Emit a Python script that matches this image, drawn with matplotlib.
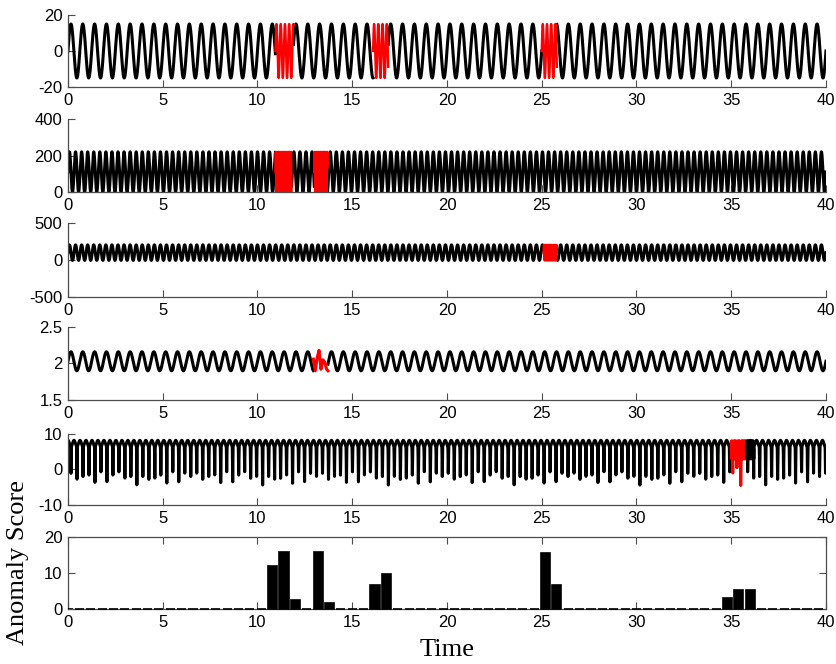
import numpy as np
import matplotlib.pyplot as plt
from matplotlib.ticker import FormatStrFormatter

# time base of the five signals
t = np.linspace(0, 40, 16001)

# signal shapes: (offset, amplitude, cycles per time unit)
sig1 = (0.0, 15.0, 1.6)
sig2 = (110.0, 110.0, 3.125)
sig3 = (100.0, 105.0, 3.125)
sig4 = (2.03, 0.13, 1.6)
sig5 = (7.3, 0.9, 3.165)

# panel 5: downward spikes, one every spike_period, depths repeat in this pattern
spike_period = 0.316
spike_depths = [-1.1, -2.8, -2.0, -1.6, -3.7, -0.7, -3.5, -1.6, -0.7, -2.5, -2.0,
                -4.4, -2.0, -2.8, -2.5, -1.6, -3.9, -0.7, -3.5, -1.1, -2.0]

# anomalous stretches (red): (start, end, cycles per time unit)
anom1 = [(10.95, 11.9, 4.5), (16.1, 16.9, 4.5), (25.0, 25.8, 4.5)]
anom2 = [(10.95, 11.8, 15.0), (13.0, 13.7, 15.0)]
anom3 = [(25.1, 25.8, 15.0)]
anom4_t = [12.95, 13.05, 13.15, 13.25, 13.35, 13.45, 13.55, 13.65, 13.72]
anom4_y = [2.06, 1.90, 2.08, 2.18, 1.92, 2.05, 2.02, 1.92, 1.90]
anom5 = [(35.0, 35.8, 25.0)]
anom5_spike_t = [35.08, 35.3, 35.5]
anom5_spike_y = [-1.0, 0.5, -4.5]
dense5 = (35.8, 36.2)

# anomaly score per 0.6-wide time bin
bin_width = 0.6
n_bins = 67
score_bins = [18, 19, 20, 22, 23, 27, 28, 42, 43, 58, 59, 60]
score_vals = [11.9, 15.8, 2.5, 15.8, 1.8, 6.8, 9.6, 15.5, 6.8, 3.0, 5.2, 5.3]

ylims = [(-20, 20), (0, 400), (-500, 500), (1.5, 2.5), (-10, 10), (0, 20)]
yticks = [[-20, 0, 20], [0, 200, 400], [-500, 0, 500], [1.5, 2, 2.5],
          [-10, 0, 10], [0, 10, 20]]

# axes boxes in figure fractions (left, bottom, width, height)
boxes = [(0.0813, 0.869, 0.9067, 0.1084),
         (0.0813, 0.7108, 0.9067, 0.110),
         (0.0813, 0.5527, 0.9067, 0.1114),
         (0.0813, 0.3976, 0.9067, 0.110),
         (0.0813, 0.2395, 0.9067, 0.107),
         (0.0813, 0.0828, 0.9067, 0.1084)]

spine_col = '#4d4d4d'
lw = 2.2
red_lw = 1.7


def wave(p, tt):
    off, amp, f = p
    return off + amp * np.sin(2 * np.pi * f * tt)


def masked(y, windows):
    y = y.copy()
    for a, b in windows:
        y[(t > a) & (t < b)] = np.nan
    return y


def red_parts(ax, p, windows):
    off, amp, _ = p
    for a, b, f in windows:
        tt = t[(t >= a) & (t <= b)]
        ax.plot(tt, off + amp * np.sin(2 * np.pi * f * (tt - a)), color='red', lw=red_lw)


def panel5_signal(tt):
    off, amp, f = sig5
    k = np.arange(int(40 / spike_period) + 1)
    centers = 0.16 + k * spike_period
    # ripple peaks halfway between spikes
    y = off - amp * np.cos(2 * np.pi * f * (tt - 0.16))
    depths = np.resize(spike_depths, len(centers))
    for c, d in zip(centers, depths):
        near = np.abs(tt - c) < 0.05
        g = np.exp(-((tt[near] - c) / 0.012) ** 2)
        y[near] = y[near] - (y[near] - d) * g
    return y


fig = plt.figure(figsize=(8.36, 6.64), dpi=100)
axes = [fig.add_axes(b) for b in boxes]

# panel 1
ax = axes[0]
ax.plot(t, masked(wave(sig1, t), [w[:2] for w in anom1]), color='black', lw=lw)
red_parts(ax, sig1, anom1)

# panel 2
ax = axes[1]
ax.plot(t, masked(wave(sig2, t), [w[:2] for w in anom2]), color='black', lw=lw)
red_parts(ax, sig2, anom2)

# panel 3
ax = axes[2]
ax.plot(t, masked(wave(sig3, t), [w[:2] for w in anom3]), color='black', lw=lw)
red_parts(ax, sig3, anom3)

# panel 4
ax = axes[3]
ax.plot(t, masked(wave(sig4, t), [(anom4_t[0], anom4_t[-1])]), color='black', lw=lw)
ax.plot(anom4_t, anom4_y, color='red', lw=lw)

# panel 5
ax = axes[4]
y5 = panel5_signal(t)
ax.plot(t, masked(y5, [w[:2] for w in anom5]), color='black', lw=lw)
a, b, f = anom5[0]
sel = (t >= a) & (t <= b)
yr = 5.5 + 2.5 * np.sin(2 * np.pi * f * (t[sel] - a))
for st, sy in zip(anom5_spike_t, anom5_spike_y):
    near = np.abs(t[sel] - st) < 0.04
    yr[near] = yr[near] - (yr[near] - sy) * np.exp(-((t[sel][near] - st) / 0.01) ** 2)
ax.plot(t[sel], yr, color='red', lw=lw)
sel = (t >= dense5[0]) & (t <= dense5[1])
ax.plot(t[sel], 5.5 + 2.5 * np.sin(2 * np.pi * 25 * t[sel]), color='black', lw=lw)

# panel 6: anomaly score bars
ax = axes[5]
scores = np.zeros(n_bins)
scores[score_bins] = score_vals
centers = np.arange(n_bins) * bin_width
bars = ax.bar(centers, scores, width=0.8 * bin_width, color='black',
              edgecolor='black', linewidth=1.2, zorder=3)
for p in bars.patches[1:]:
    p.set_clip_on(False)

for i, ax in enumerate(axes):
    ax.set_xlim(0, 40)
    ax.set_ylim(*ylims[i])
    ax.set_xticks(range(0, 41, 5))
    ax.set_yticks(yticks[i])
    ax.yaxis.set_major_formatter(FormatStrFormatter('%g'))
    ax.tick_params(direction='in', length=5, width=0.8, color=spine_col,
                   labelsize=12, pad=4)
    for lab in ax.get_xticklabels() + ax.get_yticklabels():
        lab.set_family('Liberation Sans')
    for s in ax.spines.values():
        s.set_color(spine_col)
        s.set_linewidth(0.9)
    if i < 5:
        ax.spines['top'].set_visible(False)
        ax.spines['right'].set_visible(False)
    else:
        ax.tick_params(top=True, right=True)
    ax.patch.set_alpha(0)

fig.text(0.022, 0.153, 'Anomaly Score', rotation=90, ha='center', va='center',
         fontsize=19, family='Liberation Serif')
fig.text(0.535, 0.021, 'Time', ha='center', va='center',
         fontsize=19, family='Liberation Serif')

fig.savefig('out.png', dpi=100)
